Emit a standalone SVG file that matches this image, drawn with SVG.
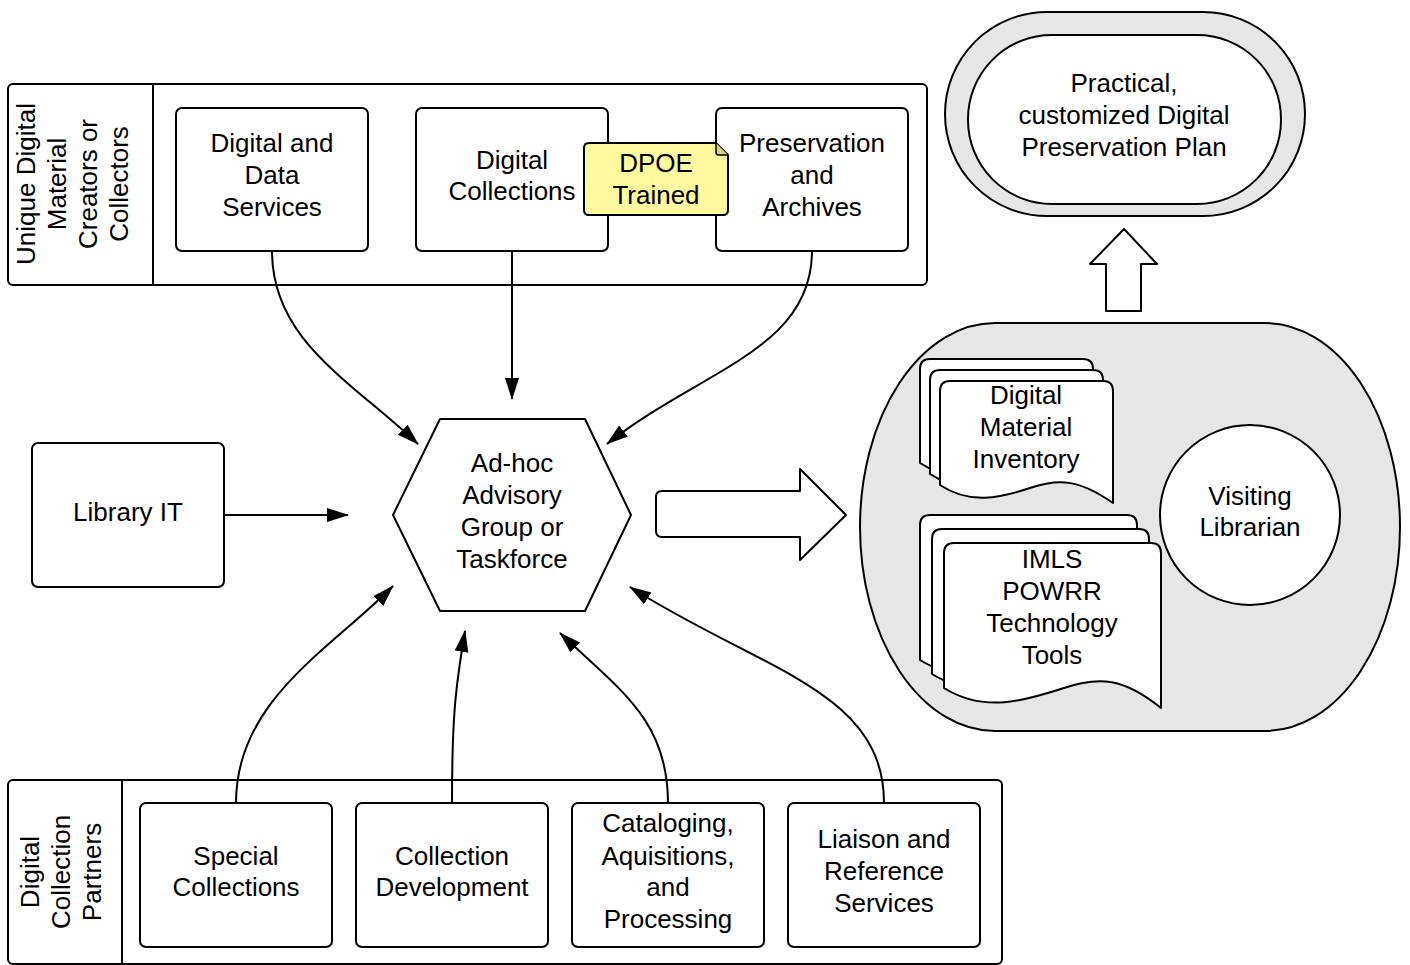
<svg xmlns="http://www.w3.org/2000/svg" width="1410" height="965" viewBox="0 0 1410 965">
<defs>
<style>
.s{fill:#fff;stroke:#000;stroke-width:2;stroke-linejoin:round}
.g{fill:#e6e6e6;stroke:#000;stroke-width:2}
.c{fill:none;stroke:#000;stroke-width:2}
text{font-family:"Liberation Sans",Arial,sans-serif;font-size:26px;fill:#000;text-anchor:middle}
</style>
<marker id="ah" markerUnits="userSpaceOnUse" markerWidth="24" markerHeight="16" refX="21" refY="7" orient="auto">
<path d="M0,0 L22,7 L0,14 Z" fill="#000"/>
</marker>
</defs>
<rect width="1410" height="965" fill="#fff"/>

<g id="top-pool">
<rect class="s" x="8" y="84" width="919" height="201" rx="5"/>
<line class="c" x1="153" y1="84" x2="153" y2="285"/>
<text transform="translate(80,184) rotate(-90)"><tspan x="0" y="-45">Unique Digital</tspan><tspan x="0" y="-14">Material</tspan><tspan x="0" y="17">Creators or</tspan><tspan x="0" y="48">Collectors</tspan></text>
</g>

<g id="dds">
<rect class="s" x="176" y="108" width="192" height="143" rx="6"/>
<text><tspan x="272" y="152">Digital and</tspan><tspan x="272" y="184">Data</tspan><tspan x="272" y="216">Services</tspan></text>
</g>
<g id="dc">
<rect class="s" x="416" y="108" width="192" height="143" rx="6"/>
<text><tspan x="512" y="169">Digital</tspan><tspan x="512" y="200">Collections</tspan></text>
</g>
<g id="pa">
<rect class="s" x="716" y="108" width="192" height="143" rx="6"/>
<text><tspan x="812" y="152">Preservation</tspan><tspan x="812" y="184">and</tspan><tspan x="812" y="216">Archives</tspan></text>
</g>
<g id="dpoe">
<path d="M589,143 L716,143 L728,155 L728,210 Q728,215 723,215 L589,215 Q584,215 584,210 L584,148 Q584,143 589,143 Z" fill="#fcf99e" stroke="#000" stroke-width="2" stroke-linejoin="round"/>
<path d="M716,143 L716,152 Q716,155 719,155 L728,155" fill="#d8d480" stroke="#000" stroke-width="1.5" stroke-linejoin="round"/>
<text><tspan x="656" y="172">DPOE</tspan><tspan x="656" y="204">Trained</tspan></text>
</g>

<g id="library-it">
<rect class="s" x="32" y="443" width="192" height="144" rx="6"/>
<text x="128" y="521">Library IT</text>
</g>

<g id="advisory">
<path class="s" d="M440,419 L585,419 L631,515 L585,611 L440,611 L393,515 Z"/>
<text><tspan x="512" y="472">Ad-hoc</tspan><tspan x="512" y="504">Advisory</tspan><tspan x="512" y="536">Group or</tspan><tspan x="512" y="568">Taskforce</tspan></text>
</g>

<g id="big-arrow">
<path class="s" d="M662,491 L800,491 L800,469 L846,515 L800,560 L800,537 L662,537 Q656,537 656,531 L656,497 Q656,491 662,491 Z"/>
</g>

<g id="resources">
<rect class="g" x="860" y="323" width="540" height="408" rx="135" ry="204"/>
</g>

<g id="dmi">
<path class="s" d="M920,369 Q920,359 930,359 L1083,359 Q1093,359 1093,369 L1093,481 C1060,458 1040,456 1010,466 C980,476 950,483 920,463 Z"/>
<path class="s" d="M930,380 Q930,370 940,370 L1093,370 Q1103,370 1103,380 L1103,492 C1070,469 1050,467 1020,477 C990,487 960,494 930,474 Z"/>
<path class="s" d="M940,391 Q940,381 950,381 L1103,381 Q1113,381 1113,391 L1113,503 C1080,480 1060,478 1030,488 C1000,498 970,505 940,485 Z"/>
<text><tspan x="1026" y="404">Digital</tspan><tspan x="1026" y="436">Material</tspan><tspan x="1026" y="468">Inventory</tspan></text>
</g>

<g id="imls">
<path class="s" d="M920,525 Q920,515 930,515 L1127,515 Q1137,515 1137,525 L1137,680 C1100,650 1075,648 1040,660 C1000,673 960,685 920,660 Z"/>
<path class="s" d="M932,539 Q932,529 942,529 L1139,529 Q1149,529 1149,539 L1149,694 C1112,664 1087,662 1052,674 C1012,687 972,699 932,674 Z"/>
<path class="s" d="M944,553 Q944,543 954,543 L1151,543 Q1161,543 1161,553 L1161,708 C1124,678 1099,676 1064,688 C1024,701 984,713 944,688 Z"/>
<text><tspan x="1052" y="568">IMLS</tspan><tspan x="1052" y="600">POWRR</tspan><tspan x="1052" y="632">Technology</tspan><tspan x="1052" y="664">Tools</tspan></text>
</g>

<g id="visiting">
<circle class="s" cx="1250" cy="515" r="90"/>
<text><tspan x="1250" y="505">Visiting</tspan><tspan x="1250" y="536">Librarian</tspan></text>
</g>

<g id="up-arrow">
<path class="s" d="M1106,311 L1106,264 L1090,264 L1124,229 L1157,264 L1141,264 L1141,311 Z"/>
</g>

<g id="plan">
<rect class="g" x="945" y="12" width="360" height="204" rx="102"/>
<rect class="s" x="968" y="35" width="313" height="169" rx="84"/>
<text><tspan x="1124" y="92">Practical,</tspan><tspan x="1124" y="124">customized Digital</tspan><tspan x="1124" y="156">Preservation Plan</tspan></text>
</g>

<g id="bottom-pool">
<rect class="s" x="8" y="780" width="994" height="184" rx="5"/>
<line class="c" x1="122" y1="780" x2="122" y2="964"/>
<text transform="translate(65,872) rotate(-90)"><tspan x="0" y="-26">Digital</tspan><tspan x="0" y="5">Collection</tspan><tspan x="0" y="36">Partners</tspan></text>
</g>
<g id="special">
<rect class="s" x="140" y="803" width="192" height="144" rx="6"/>
<text><tspan x="236" y="865">Special</tspan><tspan x="236" y="896">Collections</tspan></text>
</g>
<g id="coldev">
<rect class="s" x="356" y="803" width="192" height="144" rx="6"/>
<text><tspan x="452" y="865">Collection</tspan><tspan x="452" y="896">Development</tspan></text>
</g>
<g id="cataloging">
<rect class="s" x="572" y="803" width="192" height="144" rx="6"/>
<text><tspan x="668" y="832">Cataloging,</tspan><tspan x="668" y="865">Aquisitions,</tspan><tspan x="668" y="896">and</tspan><tspan x="668" y="928">Processing</tspan></text>
</g>
<g id="liaison">
<rect class="s" x="788" y="803" width="192" height="144" rx="6"/>
<text><tspan x="884" y="848">Liaison and</tspan><tspan x="884" y="880">Reference</tspan><tspan x="884" y="912">Services</tspan></text>
</g>

<g id="connectors">
<path class="c" d="M272,251 C272,340 350,380 418,444" marker-end="url(#ah)"/>
<path class="c" d="M512,251 L512,399" marker-end="url(#ah)"/>
<path class="c" d="M812,251 C812,350 700,370 607,444" marker-end="url(#ah)"/>
<path class="c" d="M224,515 L348,515" marker-end="url(#ah)"/>
<path class="c" d="M236,803 C236,700 330,650 393,586" marker-end="url(#ah)"/>
<path class="c" d="M452,803 C452,720 455,690 465,631" marker-end="url(#ah)"/>
<path class="c" d="M668,803 C668,720 620,690 560,633" marker-end="url(#ah)"/>
<path class="c" d="M884,803 C884,690 760,670 630,587" marker-end="url(#ah)"/>
</g>
</svg>
